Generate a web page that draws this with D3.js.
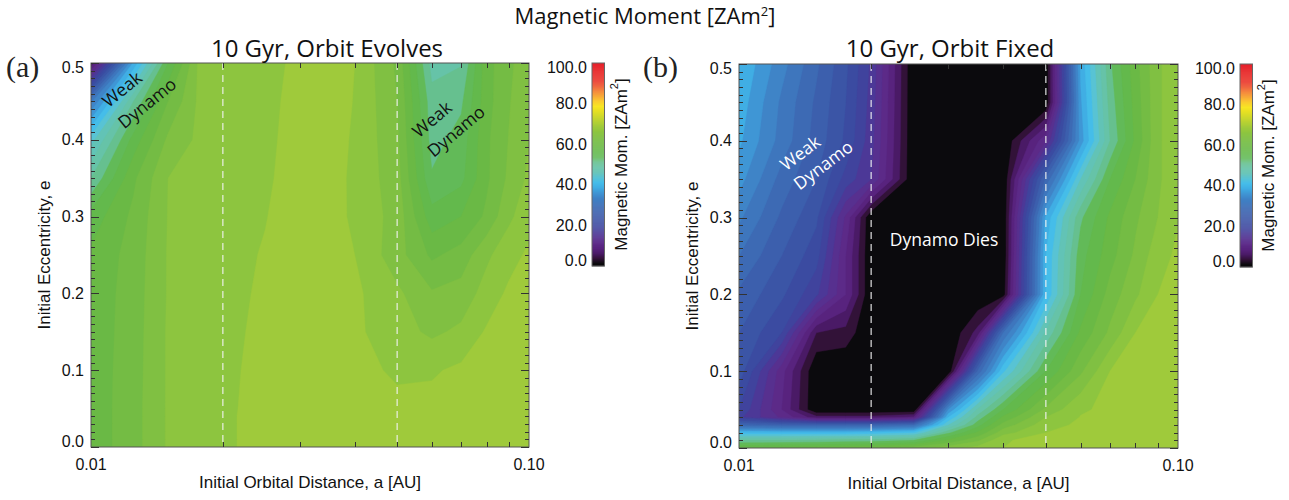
<!DOCTYPE html>
<html>
<head>
<meta charset="utf-8">
<script src="https://cdn.jsdelivr.net/npm/d3@7"></script>
<style>
  body { margin: 0; background: #fff; }
  svg { display: block; }
</style>
</head>
<body>
<svg id="fig" width="1289" height="500"></svg>
<script>
// ---- grid of the simulations: initial orbital distance (AU) and eccentricity ----
const distanceNodes = [0.010, 0.0125, 0.015, 0.0175, 0.020, 0.025, 0.030, 0.035, 0.040, 0.050, 0.060, 0.070, 0.080, 0.090, 0.100];
const eccentricityNodes = [0.00, 0.01, 0.02, 0.03, 0.04, 0.05, 0.10, 0.15, 0.20, 0.25, 0.30, 0.35, 0.40, 0.45, 0.50];

// magnetic moment [ZAm^2] after 10 Gyr, one row per eccentricity node, one column per distance node
const momentOrbitEvolves = [
  [58.5, 61.5, 65.3, 66.3, 67.0, 68.5, 69.0, 69.3, 69.3, 69.2, 69.2, 69.3, 69.4, 69.5, 69.6],
  [58.5, 61.5, 65.3, 66.3, 67.0, 68.5, 69.0, 69.3, 69.3, 69.2, 69.2, 69.3, 69.4, 69.5, 69.6],
  [58.5, 61.5, 65.3, 66.3, 67.0, 68.5, 69.0, 69.3, 69.3, 69.2, 69.2, 69.3, 69.4, 69.5, 69.6],
  [58.5, 61.5, 65.3, 66.3, 67.0, 68.5, 69.0, 69.3, 69.3, 69.2, 69.2, 69.3, 69.4, 69.5, 69.6],
  [58.5, 61.5, 65.3, 66.3, 67.0, 68.5, 69.0, 69.3, 69.3, 69.2, 69.2, 69.3, 69.4, 69.5, 69.6],
  [58.5, 61.5, 65.3, 66.3, 67.0, 68.4, 69.0, 69.3, 68.5, 68.3, 68.3, 68.6, 69.0, 69.3, 69.6],
  [58.5, 61.4, 65.3, 66.3, 66.9, 68.3, 69.0, 69.2, 68.5, 67.0, 67.2, 68.0, 68.8, 69.3, 69.6],
  [58.4, 61.3, 65.3, 66.2, 66.8, 68.1, 69.0, 69.1, 68.0, 66.0, 64.5, 65.5, 67.8, 68.8, 69.3],
  [58.3, 61.2, 65.2, 66.1, 66.7, 67.9, 69.0, 69.0, 68.0, 65.5, 62.8, 63.5, 66.0, 68.0, 69.0],
  [58.0, 61.0, 65.2, 66.0, 66.6, 67.7, 68.9, 68.8, 67.5, 63.5, 59.5, 61.0, 64.5, 66.5, 68.0],
  [56.0, 60.6, 65.1, 65.8, 66.5, 67.4, 68.8, 68.6, 67.0, 64.0, 56.0, 57.5, 60.5, 64.5, 66.5],
  [50.0, 59.5, 65.0, 65.6, 66.3, 67.1, 68.7, 68.5, 67.0, 63.5, 52.8, 54.3, 59.5, 63.0, 65.5],
  [44.0, 56.0, 63.0, 65.4, 66.0, 66.9, 68.6, 68.5, 67.2, 63.0, 51.5, 53.5, 59.5, 62.6, 65.0],
  [32.0, 50.0, 60.0, 65.2, 65.5, 66.7, 68.5, 68.5, 67.4, 62.5, 51.0, 52.0, 59.0, 62.3, 64.5],
  [ 5.0, 38.0, 55.0, 65.0, 66.0, 66.8, 68.0, 68.5, 67.5, 62.0, 49.0, 49.8, 59.0, 62.0, 64.0]
];

const momentOrbitFixed = [
  [58, 58.5, 59, 59.5, 60, 61.5, 64, 66, 67.5, 68.5, 69, 69.3, 69.5, 69.6, 69.7],
  [50, 50, 50.5, 51, 51, 52.5, 58, 62, 67.3, 68.2, 68.7, 69.1, 69.4, 69.5, 69.6],
  [40, 40, 40, 40, 40.5, 42, 52, 58, 64, 67.5, 68.2, 68.9, 69.2, 69.4, 69.5],
  [28, 27, 27, 27, 27, 29, 45, 54, 61, 66.5, 68, 68.6, 69, 69.3, 69.5],
  [18, 12, 6, 6, 6, 8, 40, 51, 58, 65, 67.6, 68.3, 68.8, 69.2, 69.4],
  [20, 10, 0, 0, 0, 0, 35, 48, 55, 63, 67.2, 68, 68.6, 69, 69.3],
  [24, 11, 0, 0, 0, 0, 0, 28, 42, 55, 62, 67.5, 68.5, 69, 69.3],
  [25, 20, 5, 4, 0, 0, 0, 6, 30, 48, 58, 63, 67.5, 68.5, 69],
  [27, 23, 18, 10, 0, 0, 0, 0, 1, 40, 55, 61, 64.5, 67.5, 68.5],
  [30, 25, 21, 10, 0, 0, 0, 0, 0, 40, 54, 59, 63, 66.5, 68],
  [33, 27, 23, 12, 0, 0, 0, 0, 0, 38, 52, 58, 62, 65, 67.3],
  [36, 29, 25, 19, 15, 0, 0, 0, 0, 28, 45, 55, 60, 64.5, 67],
  [38, 31.5, 26.5, 22, 16, 0, 0, 0, 0, 12, 36, 50, 58, 64.5, 67],
  [39, 32, 27, 22.5, 16.5, 0, 0, 0, 0, 0, 37, 51, 58.5, 64.5, 67],
  [40, 33.5, 28, 23, 17, 0, 0, 0, 0, 0, 38, 52, 59, 64.5, 67]
];

// contour levels, ticks and labels
const contourLevels = d3.range(0, 100, 2.5);
const eccTicks = [0.0, 0.1, 0.2, 0.3, 0.4, 0.5];
const eccTickLabels = ["0.0", "0.1", "0.2", "0.3", "0.4", "0.5"];
const distTicks = [0.01, 0.10];
const distTickLabels = ["0.01", "0.10"];
const distMinorTicks = [0.02, 0.03, 0.04, 0.05, 0.06, 0.07, 0.08, 0.09];
const momentTicks = [0, 20, 40, 60, 80, 100];
const momentTickLabels = ["0.0", "20.0", "40.0", "60.0", "80.0", "100.0"];
const guideDistances = [0.02, 0.05];

// rainbow colour table (value -> colour)
const cmapStops = [
  [0, "#08080a"], [1.25, "#0b0a0d"], [3.75, "#321238"], [6.25, "#4a1a66"], [8.75, "#58237e"],
  [11.25, "#5c2a88"], [13.75, "#57308f"], [16.25, "#4c3897"], [18.75, "#40439d"], [21.25, "#3b4ba1"],
  [23.75, "#3b55a6"], [26.25, "#3c5fad"], [28.75, "#3d6ab4"], [31.25, "#3e76bd"], [33.75, "#3f84c7"],
  [36.25, "#3f96d5"], [38.75, "#40aee4"], [41.25, "#45bde9"], [43.75, "#58c3d4"], [46.25, "#62c3b6"],
  [48.75, "#66c3a8"], [51.25, "#66c08f"], [53.75, "#62ba58"], [56.25, "#63b94c"], [58.75, "#6ab945"],
  [61.25, "#74bc44"], [63.75, "#80c042"], [66.25, "#8dc53f"], [68.75, "#9fca3b"], [71.25, "#b6d134"],
  [73.75, "#cdd82c"], [76.25, "#e4df24"], [78.75, "#f8e51c"], [81.25, "#fac81e"], [83.75, "#f8a122"],
  [86.25, "#f37a24"], [88.75, "#ee5126"], [91.25, "#ea3428"], [100, "#e61f2a"]
];
const cmap = d3.scaleLinear()
  .domain(cmapStops.map(d => d[0]))
  .range(cmapStops.map(d => d[1]))
  .interpolate(d3.interpolateRgb)
  .clamp(true);

const TICK_FONT = "'Liberation Sans', Arial, sans-serif";
const TITLE_FONT = "'Open Sans', 'Noto Sans', sans-serif";

const panels = [
  {
    id: "a", values: momentOrbitEvolves, tag: "(a)", tagX: 6,
    title: "10 Gyr, Orbit Evolves", titleX: 327,
    x0: 91, x1: 529, y0: 63, y1: 447,
    cbX: 592, cbW: 12.5, cbY0: 63, cbY1: 266, cbTitleX: 621,
    notes: [
      { text: "Weak", x: 126, y: 94, rot: -39, fill: "#111" },
      { text: "Dynamo", x: 151, y: 108, rot: -39, fill: "#111" },
      { text: "Weak", x: 436, y: 124, rot: -40, fill: "#111" },
      { text: "Dynamo", x: 460, y: 136, rot: -40, fill: "#111" }
    ]
  },
  {
    id: "b", values: momentOrbitFixed, tag: "(b)", tagX: 643,
    title: "10 Gyr, Orbit Fixed", titleX: 950,
    x0: 739, x1: 1178, y0: 64, y1: 448,
    cbX: 1240, cbW: 12.5, cbY0: 64, cbY1: 267, cbTitleX: 1268,
    notes: [
      { text: "Weak", x: 804, y: 158, rot: -37, fill: "#fff" },
      { text: "Dynamo", x: 827, y: 170, rot: -37, fill: "#fff" },
      { text: "Dynamo Dies", x: 944, y: 246, rot: 0, fill: "#fff" }
    ]
  }
];

const svg = d3.select("#fig");

// figure title
svg.append("text")
  .attr("x", 645).attr("y", 24)
  .attr("text-anchor", "middle")
  .attr("font-family", TITLE_FONT).attr("font-size", 22).attr("fill", "#111")
  .call(t => {
    t.append("tspan").text("Magnetic Moment [ZAm");
    t.append("tspan").text("2").attr("font-size", 13).attr("dy", -8);
    t.append("tspan").text("]").attr("dy", 8);
  });

// piecewise-linear lookup from d3-contour grid coordinates to node values
function nodeValue(c, nodes) {
  const u = Math.max(0, Math.min(nodes.length - 1, c - 0.5));
  const i = Math.min(nodes.length - 2, Math.floor(u));
  const t = u - i;
  return nodes[i] + t * (nodes[i + 1] - nodes[i]);
}
const logDistanceNodes = distanceNodes.map(Math.log10);

panels.forEach(p => {
  const g = svg.append("g").attr("class", "panel-" + p.id);
  const x = d3.scaleLog().domain([0.01, 0.1]).range([p.x0, p.x1]);
  const y = d3.scaleLinear().domain([0, 0.5]).range([p.y1, p.y0]);

  // filled contours
  const nx = distanceNodes.length, ny = eccentricityNodes.length;
  const flat = [];
  p.values.forEach(row => row.forEach(v => flat.push(v)));
  const contours = d3.contours().size([nx, ny]).thresholds(contourLevels)(flat);

  const proj = d3.geoTransform({
    point(cx, cy) {
      this.stream.point(
        x(Math.pow(10, nodeValue(cx, logDistanceNodes))),
        y(nodeValue(cy, eccentricityNodes))
      );
    }
  });
  const path = d3.geoPath(proj);

  g.append("clipPath").attr("id", "clip-" + p.id)
    .append("rect").attr("x", p.x0).attr("y", p.y0)
    .attr("width", p.x1 - p.x0).attr("height", p.y1 - p.y0);

  const field = g.append("g").attr("clip-path", `url(#clip-${p.id})`);
  field.selectAll("path.band")
    .data(contours)
    .join("path")
    .attr("class", "band")
    .attr("d", path)
    .attr("fill", d => cmap(d.value + 1.25))
    .attr("stroke", d => cmap(d.value + 1.25))
    .attr("stroke-width", 0.4);

  // reference distances
  field.selectAll("line.guide")
    .data(guideDistances)
    .join("line")
    .attr("class", "guide")
    .attr("x1", d => x(d)).attr("x2", d => x(d))
    .attr("y1", p.y0).attr("y2", p.y1)
    .attr("stroke", "#f2f2f2").attr("stroke-opacity", 0.85)
    .attr("stroke-width", 1.3).attr("stroke-dasharray", "7,5");

  // annotations
  p.notes.forEach(n => {
    g.append("text")
      .attr("transform", `translate(${n.x},${n.y}) rotate(${n.rot})`)
      .attr("text-anchor", "middle")
      .attr("font-family", TITLE_FONT).attr("font-size", 17.5)
      .attr("fill", n.fill)
      .text(n.text);
  });

  // frame and ticks
  const axisColor = "#333";
  g.append("rect")
    .attr("x", p.x0).attr("y", p.y0)
    .attr("width", p.x1 - p.x0).attr("height", p.y1 - p.y0)
    .attr("fill", "none").attr("stroke", "#555").attr("stroke-width", 1);

  const eMinor = d3.range(0, 51).map(i => i / 100);
  const tickG = g.append("g").attr("stroke", axisColor).attr("stroke-width", 1);
  eMinor.forEach((e, i) => {
    const len = i % 10 === 0 ? 8 : 4;
    const yy = Math.round(y(e)) + 0.5;
    tickG.append("line").attr("x1", p.x0).attr("x2", p.x0 + len).attr("y1", yy).attr("y2", yy);
    tickG.append("line").attr("x1", p.x1).attr("x2", p.x1 - len).attr("y1", yy).attr("y2", yy);
  });
  distMinorTicks.forEach(a => {
    const xx = Math.round(x(a)) + 0.5;
    tickG.append("line").attr("x1", xx).attr("x2", xx).attr("y1", p.y1).attr("y2", p.y1 - 5);
    tickG.append("line").attr("x1", xx).attr("x2", xx).attr("y1", p.y0).attr("y2", p.y0 + 5);
  });

  // tick labels
  eccTicks.forEach((e, i) => {
    const yy = Math.max(p.y0 + 4.5, Math.min(p.y1 - 6, y(e)));
    g.append("text")
      .attr("x", p.x0 - 7).attr("y", yy)
      .attr("text-anchor", "end").attr("dominant-baseline", "central")
      .attr("font-family", TICK_FONT).attr("font-size", 16).attr("fill", "#111")
      .text(eccTickLabels[i]);
  });
  distTicks.forEach((a, i) => {
    g.append("text")
      .attr("x", x(a)).attr("y", p.y1 + 17)
      .attr("text-anchor", "middle").attr("dominant-baseline", "central")
      .attr("font-family", TICK_FONT).attr("font-size", 16).attr("fill", "#111")
      .text(distTickLabels[i]);
  });

  // axis titles
  g.append("text")
    .attr("x", (p.x0 + p.x1) / 2).attr("y", p.y1 + 35)
    .attr("text-anchor", "middle").attr("dominant-baseline", "central")
    .attr("font-family", TICK_FONT).attr("font-size", 17).attr("fill", "#111")
    .text("Initial Orbital Distance, a [AU]");
  g.append("text")
    .attr("transform", `translate(${p.x0 - 47},${(p.y0 + p.y1) / 2}) rotate(-90)`)
    .attr("text-anchor", "middle").attr("dominant-baseline", "central")
    .attr("font-family", TICK_FONT).attr("font-size", 17).attr("fill", "#111")
    .text("Initial Eccentricity, e");

  // panel title and tag
  g.append("text")
    .attr("x", p.titleX).attr("y", 57)
    .attr("text-anchor", "middle")
    .attr("font-family", TITLE_FONT).attr("font-size", 24).attr("fill", "#111")
    .text(p.title);
  g.append("text")
    .attr("x", p.tagX).attr("y", 77)
    .attr("font-family", "'Liberation Serif', 'DejaVu Serif', serif").attr("font-size", 30).attr("fill", "#222")
    .text(p.tag);

  // colour bar
  const cy = d3.scaleLinear().domain([0, 100]).range([p.cbY1, p.cbY0]);
  const cb = g.append("g");
  const steps = d3.range(0, 100, 0.5);
  cb.selectAll("rect.step")
    .data(steps)
    .join("rect")
    .attr("class", "step")
    .attr("x", p.cbX).attr("width", p.cbW)
    .attr("y", d => cy(d + 0.5)).attr("height", d => cy(d) - cy(d + 0.5) + 0.3)
    .attr("fill", d => cmap(d + 0.25));
  cb.append("rect")
    .attr("x", p.cbX).attr("y", p.cbY0).attr("width", p.cbW).attr("height", p.cbY1 - p.cbY0)
    .attr("fill", "none").attr("stroke", "#666").attr("stroke-width", 1);
  momentTicks.forEach((m, i) => {
    const yy = Math.max(p.cbY0 + 4.5, Math.min(p.cbY1 - 6, cy(m)));
    cb.append("text")
      .attr("x", p.cbX - 5).attr("y", yy)
      .attr("text-anchor", "end").attr("dominant-baseline", "central")
      .attr("font-family", TICK_FONT).attr("font-size", 16).attr("fill", "#111")
      .text(momentTickLabels[i]);
  });
  cb.append("text")
    .attr("transform", `translate(${p.cbTitleX},${(p.cbY0 + p.cbY1) / 2}) rotate(-90)`)
    .attr("text-anchor", "middle").attr("dominant-baseline", "central")
    .attr("font-family", TICK_FONT).attr("font-size", 17).attr("fill", "#111")
    .call(t => {
      t.append("tspan").text("Magnetic Mom. [ZAm");
      t.append("tspan").text("2").attr("font-size", 11).attr("dy", -7);
      t.append("tspan").text("]").attr("dy", 7);
    });
});
</script>
</body>
</html>
